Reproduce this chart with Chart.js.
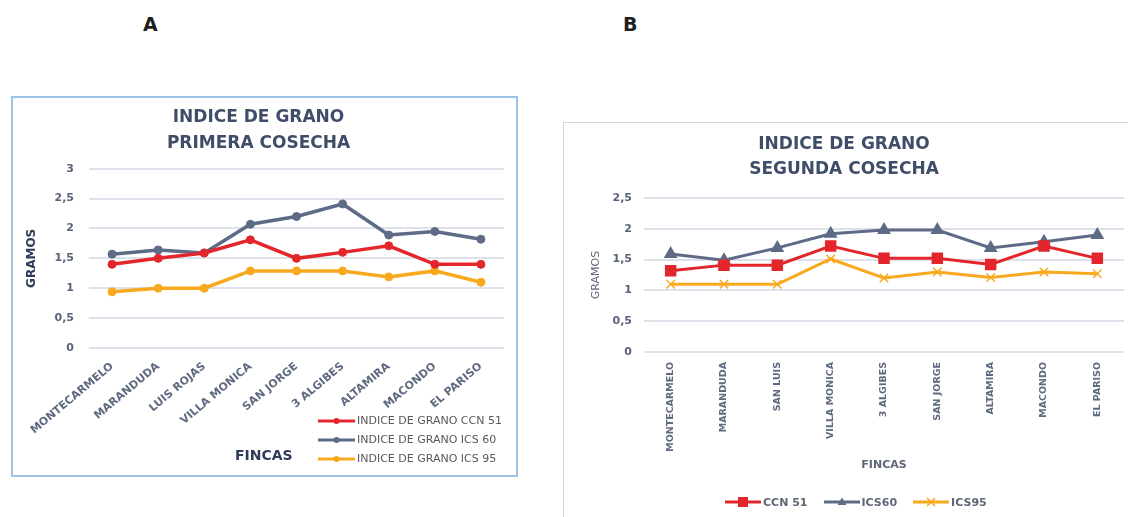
<!DOCTYPE html>
<html lang="es">
<head>
<meta charset="utf-8">
<title>Indice de grano</title>
<script src="https://cdn.jsdelivr.net/npm/chart.js@4.4.1/dist/chart.umd.min.js"></script>
<style>
  html, body { margin: 0; padding: 0; background: #fff; }
  body {
    width: 1128px; height: 517px; position: relative; overflow: hidden;
    font-family: "DejaVu Sans", sans-serif;
  }
  .letter { position: absolute; top: 13px; font-weight: bold; font-size: 19px; color: #1e1e1e; }
  #boxA {
    position: absolute; left: 11px; top: 96px; width: 507px; height: 381px;
    border: 2px solid #9DC3E6; box-sizing: border-box;
  }
  #boxB {
    position: absolute; left: 563px; top: 122px; width: 620px; height: 440px;
    border: 1px solid #D6D6D6; box-sizing: border-box;
  }
  canvas { position: absolute; }
  #chartA { left: 13px; top: 98px; }
  #chartB { left: 564px; top: 123px; }
  .axis-title { position: absolute; font-weight: bold; white-space: nowrap; }
  #fincasA { left: 235px; top: 447px; font-size: 14px; color: #2F3B59; }
  #legendA { position: absolute; left: 318px; top: 411px; }
  #legendA .row { display: flex; align-items: center; height: 19px; }
  #legendA span { font-size: 11px; color: #595959; margin-left: 2px; }
  #legendB { position: absolute; left: 725px; top: 493px; display: flex; align-items: center; height: 18px; }
  #legendB .item { display: flex; align-items: center; margin-right: 16px; }
  #legendB span { font-size: 11px; font-weight: bold; color: #5E6678; margin-left: 2px; }
</style>
</head>
<body>
<div class="letter" style="left:143px">A</div>
<div class="letter" style="left:623px">B</div>

<div id="boxA"></div>
<canvas id="chartA" width="503" height="377"></canvas>
<div class="axis-title" id="fincasA">FINCAS</div>
<div id="legendA"></div>

<div id="boxB"></div>
<canvas id="chartB" width="584" height="394"></canvas>
<div id="legendB"></div>

<script>
const FONT = '"DejaVu Sans", sans-serif';

const RED = "#E3262B";
const GRAY = "#5E6B87";
const ORANGE = "#F8A91E";

// Primera cosecha (A)
const fincasA = ["MONTECARMELO", "MARANDUDA", "LUIS ROJAS", "VILLA MONICA", "SAN JORGE", "3 ALGIBES", "ALTAMIRA", "MACONDO", "EL PARISO"];
const ccn51A = [1.4, 1.5, 1.59, 1.81, 1.5, 1.6, 1.71, 1.4, 1.4];
const ics60A = [1.57, 1.64, 1.59, 2.07, 2.2, 2.41, 1.89, 1.95, 1.82];
const ics95A = [0.94, 1.0, 1.0, 1.29, 1.29, 1.29, 1.19, 1.29, 1.1];
const seriesNamesA = ["INDICE DE GRANO CCN 51", "INDICE DE GRANO ICS 60", "INDICE DE GRANO ICS 95"];
const titleA = ["INDICE DE GRANO", "PRIMERA COSECHA"];

// Segunda cosecha (B)
const fincasB = ["MONTECARMELO", "MARANDUDA", "SAN LUIS", "VILLA MONICA", "3 ALGIBES", "SAN JORGE", "ALTAMIRA", "MACONDO", "EL PARISO"];
const ccn51B = [1.32, 1.41, 1.41, 1.72, 1.52, 1.52, 1.42, 1.72, 1.52];
const ics60B = [1.59, 1.49, 1.69, 1.92, 1.98, 1.98, 1.69, 1.79, 1.9];
const ics95B = [1.1, 1.1, 1.1, 1.51, 1.2, 1.3, 1.21, 1.3, 1.27];
const seriesNamesB = ["CCN 51", "ICS60", "ICS95"];
const titleB = ["INDICE DE GRANO", "SEGUNDA COSECHA"];

const yMaxA = 3;
const yMaxB = 2.5;
const yStep = 0.5;

function commaTick(value) {
  return String(value).replace(".", ",");
}

function fixWidth(width) {
  return (scale) => { scale.width = width; };
}

function fixHeight(height) {
  return (scale) => { scale.height = height; };
}

function lineDataset(label, data, color, extra) {
  return Object.assign({
    label,
    data,
    borderColor: color,
    backgroundColor: color,
    pointBackgroundColor: color,
    pointBorderColor: color,
    tension: 0,
  }, extra);
}

Chart.defaults.font.family = FONT;
Chart.defaults.animation = false;

// ---- Chart A ----
const dotA = { borderWidth: 3.5, pointStyle: "circle", pointRadius: 4, pointBorderWidth: 1 };

new Chart(document.getElementById("chartA"), {
  type: "line",
  data: {
    labels: fincasA,
    datasets: [
      lineDataset(seriesNamesA[0], ccn51A, RED, dotA),
      lineDataset(seriesNamesA[1], ics60A, GRAY, dotA),
      lineDataset(seriesNamesA[2], ics95A, ORANGE, dotA),
    ],
  },
  options: {
    responsive: false,
    layout: { padding: { left: 0, right: 12, top: 0, bottom: 0 } },
    plugins: {
      legend: { display: false },
      tooltip: { enabled: false },
      title: {
        display: true,
        text: titleA,
        color: "#404D68",
        font: { size: 17, weight: "bold", lineHeight: 1.55 },
        padding: { top: 6, bottom: 12 },
      },
    },
    scales: {
      x: {
        offset: true,
        afterFit: fixHeight(127),
        grid: { display: false },
        border: { display: false },
        ticks: {
          autoSkip: false,
          minRotation: 40,
          maxRotation: 40,
          padding: 4,
          color: "#5F6A80",
          font: { size: 11, weight: "bold" },
        },
      },
      y: {
        min: 0,
        max: yMaxA,
        afterFit: fixWidth(76),
        border: { display: false },
        grid: { color: "#DCE1EA", lineWidth: 2, drawTicks: false },
        ticks: {
          stepSize: yStep,
          padding: 15,
          color: "#58627A",
          font: { size: 11, weight: "bold" },
          callback: commaTick,
        },
        title: {
          display: true,
          text: "GRAMOS",
          color: "#2F3B59",
          font: { size: 12, weight: "bold" },
          padding: { top: 12, bottom: 0 },
        },
      },
    },
  },
});

// ---- Chart B ----
new Chart(document.getElementById("chartB"), {
  type: "line",
  data: {
    labels: fincasB,
    datasets: [
      lineDataset(seriesNamesB[0], ccn51B, RED, { borderWidth: 3, pointStyle: "rect", pointRadius: 6 }),
      lineDataset(seriesNamesB[1], ics60B, GRAY, { borderWidth: 3, pointStyle: "triangle", pointRadius: 5 }),
      lineDataset(seriesNamesB[2], ics95B, ORANGE, { borderWidth: 3, pointStyle: "crossRot", pointRadius: 6, pointBorderWidth: 1.5 }),
    ],
  },
  options: {
    responsive: false,
    layout: { padding: { left: 0, right: 24, top: 0, bottom: 45 } },
    plugins: {
      legend: { display: false },
      tooltip: { enabled: false },
      title: {
        display: true,
        text: titleB,
        color: "#404D68",
        font: { size: 17, weight: "bold", lineHeight: 1.47 },
        padding: { top: 9.5, bottom: 15.5 },
      },
    },
    scales: {
      x: {
        offset: true,
        afterFit: fixHeight(120),
        grid: { display: false },
        border: { display: false },
        ticks: {
          autoSkip: false,
          minRotation: 90,
          maxRotation: 90,
          padding: 2,
          color: "#5F6A80",
          font: { size: 9.5, weight: "bold" },
        },
        title: {
          display: true,
          text: "FINCAS",
          color: "#5E6678",
          font: { size: 11, weight: "bold" },
          padding: { top: 0, bottom: 0 },
        },
      },
      y: {
        min: 0,
        max: yMaxB,
        afterFit: fixWidth(80),
        border: { display: false },
        grid: { color: "#DCE1EA", lineWidth: 2, drawTicks: false },
        ticks: {
          stepSize: yStep,
          padding: 12,
          color: "#58627A",
          font: { size: 11, weight: "bold" },
          callback: commaTick,
        },
        title: {
          display: true,
          text: "GRAMOS",
          color: "#5E6678",
          font: { size: 11 },
          padding: { top: 26, bottom: 0 },
        },
      },
    },
  },
});

// ---- HTML legends ----
function markerSvg(color, kind, width) {
  const mid = width / 2;
  let marker = "";
  if (kind === "circle") {
    marker = `<circle cx="${mid}" cy="6" r="3" fill="${color}"/>`;
  } else if (kind === "rect") {
    marker = `<rect x="${mid - 5}" y="1" width="10" height="10" fill="${color}"/>`;
  } else if (kind === "triangle") {
    marker = `<polygon points="${mid},1.5 ${mid + 4.5},9 ${mid - 4.5},9" fill="${color}"/>`;
  } else if (kind === "crossRot") {
    marker = `<path d="M${mid - 4},2 L${mid + 4},10 M${mid + 4},2 L${mid - 4},10" stroke="${color}" stroke-width="1.5"/>`;
  }
  return `<svg width="${width}" height="12" viewBox="0 0 ${width} 12">` +
    `<line x1="0" y1="6" x2="${width}" y2="6" stroke="${color}" stroke-width="3"/>${marker}</svg>`;
}

const coloresSerie = [RED, GRAY, ORANGE];

document.getElementById("legendA").innerHTML = seriesNamesA
  .map((name, i) => `<div class="row">${markerSvg(coloresSerie[i], "circle", 37)}<span>${name}</span></div>`)
  .join("");

const markersB = ["rect", "triangle", "crossRot"];
document.getElementById("legendB").innerHTML = seriesNamesB
  .map((name, i) => `<div class="item">${markerSvg(coloresSerie[i], markersB[i], 36)}<span>${name}</span></div>`)
  .join("");
</script>
</body>
</html>
